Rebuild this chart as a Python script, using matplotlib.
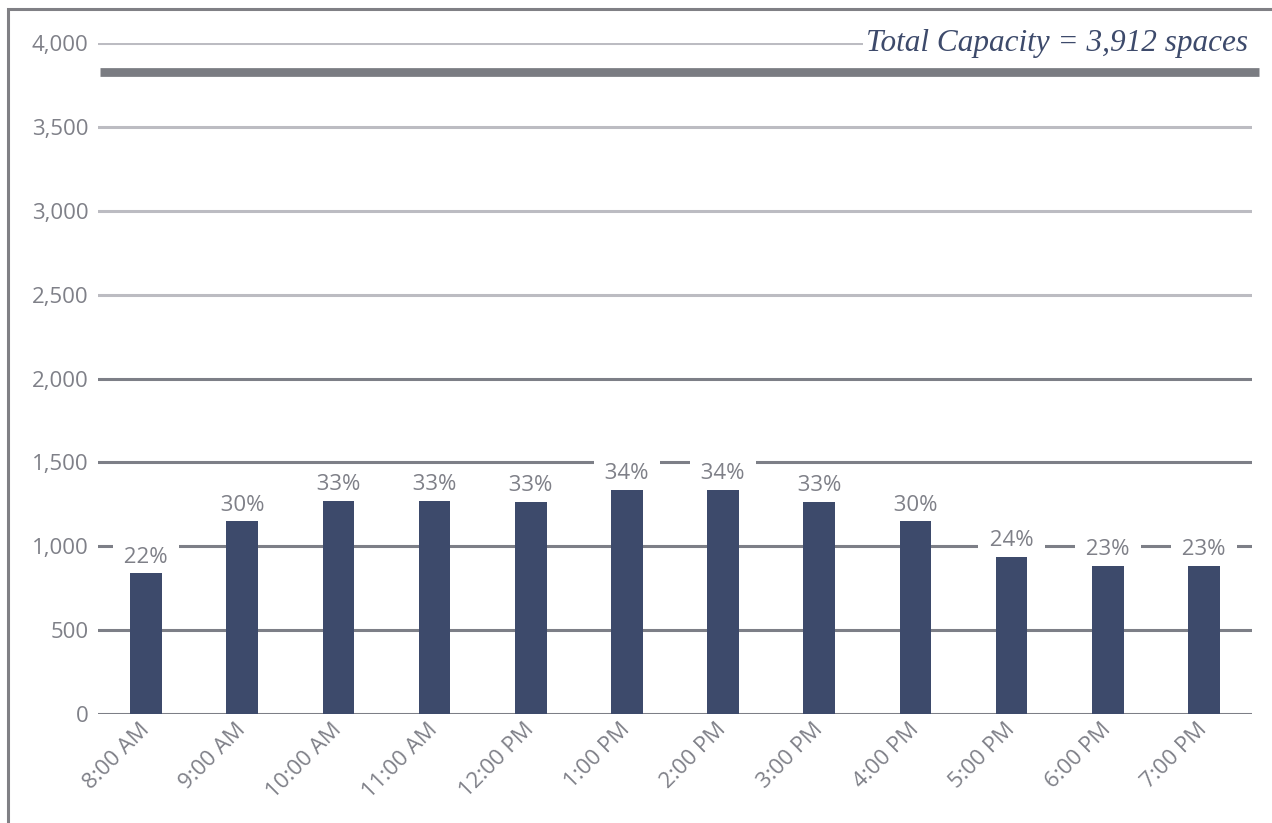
import numpy as np
import matplotlib
matplotlib.use("Agg")
import matplotlib.pyplot as plt
from matplotlib.patches import Rectangle
from matplotlib.transforms import ScaledTranslation

# data
hours = ["8:00 AM", "9:00 AM", "10:00 AM", "11:00 AM", "12:00 PM", "1:00 PM",
         "2:00 PM", "3:00 PM", "4:00 PM", "5:00 PM", "6:00 PM", "7:00 PM"]
occupied = [840, 1150, 1270, 1270, 1264, 1335, 1335, 1264, 1150, 936, 882, 882]
pct_labels = ["22%", "30%", "33%", "33%", "33%", "34%", "34%", "33%", "30%", "24%", "23%", "23%"]
total_capacity = 3912
capacity_line_y = 3830
y_ticks = [0, 500, 1000, 1500, 2000, 2500, 3000, 3500, 4000]

bar_color = "#3d4a6b"
text_gray = "#7f8088"
grid_dark = "#7d7f87"
grid_light = "#bcbcc2"

fig = plt.figure(figsize=(12.72, 8.23), dpi=100)
ax = fig.add_axes([98 / 1272, 1 - 714 / 823, (1252 - 98) / 1272, (714 - 43) / 823])

x = np.arange(len(hours))

# gridlines, upper ones lighter
for t in y_ticks:
    c = grid_light if t >= 2500 else grid_dark
    ax.axhline(t, color=c, lw=2.2, zorder=1)

ax.bar(x, occupied, width=0.33, color=bar_color, zorder=4)

# labels sit on white boxes that break the gridlines
for xi, v, lab in zip(x, occupied, pct_labels):
    ax.annotate(f" {lab} ", (xi, v), xytext=(0, 4), textcoords="offset points",
                ha="center", va="bottom", fontsize=16, family="Open Sans",
                color=text_gray, zorder=3,
                bbox=dict(facecolor="white", edgecolor="none", pad=4))

# capacity line
ax.plot([-0.48, 11.57], [capacity_line_y, capacity_line_y], color="#7a7c82",
        lw=6.3, solid_capstyle="butt", zorder=2, clip_on=False)
ax.text(11.46, 4000, f"Total Capacity = {total_capacity:,} spaces", ha="right",
        va="center", fontsize=22.5, family="Liberation Serif", style="italic",
        color=bar_color, zorder=4,
        bbox=dict(facecolor="white", edgecolor="none", pad=2.5))

ax.set_xlim(-0.5, 11.5)
ax.set_ylim(0, 4000)
ax.set_yticks(y_ticks)
ax.set_yticklabels([f"{t:,}" for t in y_ticks], family="Open Sans",
                   fontsize=16, color=text_gray)
ax.set_xticks(x)
ax.set_xticklabels(hours, rotation=45, ha="right", va="center",
                   rotation_mode="anchor", family="Open Sans", fontsize=16,
                   color=text_gray)
shift = ScaledTranslation(-6 / 100, 0, fig.dpi_scale_trans)
for lbl in ax.get_xticklabels():
    lbl.set_transform(lbl.get_transform() + shift)
ax.tick_params(axis="both", length=0)
ax.tick_params(axis="y", pad=7)
ax.tick_params(axis="x", pad=9)
for s in ax.spines.values():
    s.set_visible(False)

# outer frame (left and top edges visible)
fig.patches.append(Rectangle((8 / 1272, -0.1), 1.2, 1 - 9 / 823 + 0.1,
                             transform=fig.transFigure, fill=False,
                             edgecolor="#808085", lw=2.2))

fig.savefig("out.png", dpi=100, facecolor="white")
